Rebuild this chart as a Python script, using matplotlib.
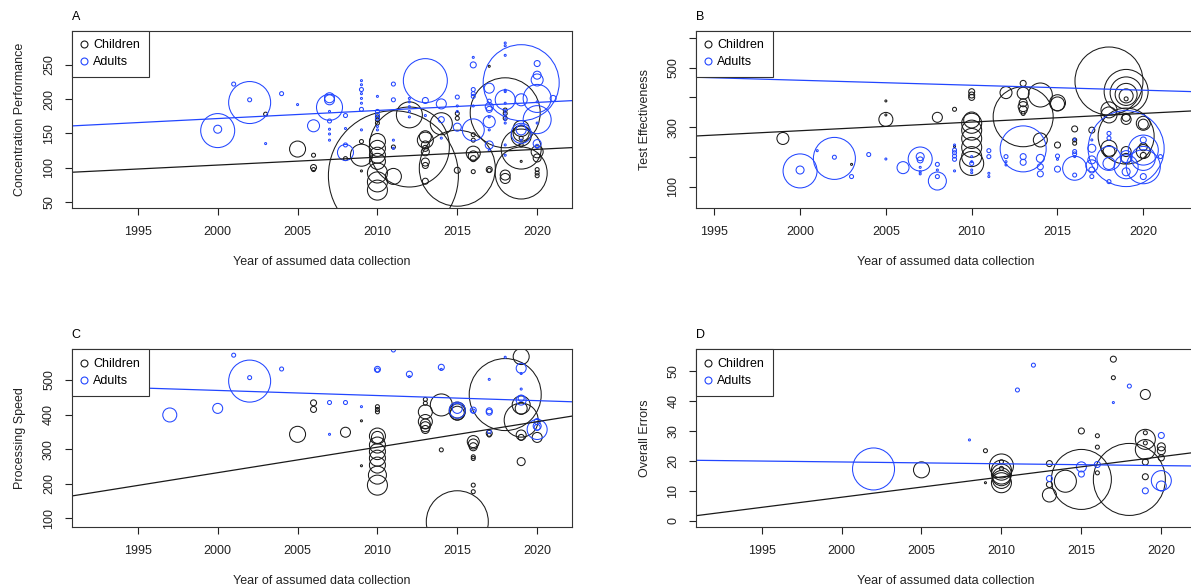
import numpy as np
import matplotlib
matplotlib.use('Agg')
from matplotlib import pyplot as plt
from matplotlib.lines import Line2D

plt.rcParams['font.family'] = ['Liberation Sans', 'DejaVu Sans']
plt.rcParams['font.size'] = 9

# ---- data: year, outcome value, study weight (circle area) ----
# A: Concentration Performance
a_ch_year = [2003, 2005, 2006, 2006, 2006, 2008, 2009, 2009, 2009, 2010, 2010, 2010, 2010, 2010, 2010, 2010,
             2010, 2010, 2010, 2011, 2011, 2011, 2012, 2012, 2013, 2013, 2013, 2013, 2013, 2013, 2013, 2013,
             2014, 2015, 2015, 2015, 2015, 2016, 2016, 2016, 2016, 2016, 2016, 2017, 2017, 2017, 2018, 2018,
             2018, 2018, 2018, 2018, 2019, 2019, 2019, 2019, 2019, 2019, 2019, 2019, 2020, 2020, 2020, 2020, 2020]
a_ch_val = [178, 127, 118, 100, 97, 113, 138, 118, 95, 174, 170, 165, 138, 128, 118, 109,
            92, 79, 67, 88, 87, 130, 177, 130, 145, 140, 133, 128, 123, 108, 103, 80,
            164, 179, 172, 99, 96, 148, 140, 121, 117, 113, 94, 248, 97, 96, 184, 179,
            172, 180, 89, 84, 157, 150, 146, 143, 133, 127, 109, 92, 123, 114, 97, 92, 88]
a_ch_w = [4, 64, 4, 9, 4, 4, 4, 121, 1, 4, 4, 4, 64, 64, 64, 64,
          100, 100, 100, 4225, 64, 4, 169, 1600, 36, 64, 16, 9, 16, 16, 9, 9,
          121, 4, 4, 1444, 9, 4, 4, 49, 25, 9, 4, 1, 9, 4, 4, 4,
          4, 1225, 25, 25, 64, 64, 100, 4, 4, 400, 1, 676, 36, 16, 4, 4, 4]

a_ad_year = [2000, 2000, 2001, 2002, 2002, 2003, 2004, 2005, 2006, 2007, 2007, 2007, 2007, 2007, 2007, 2007,
             2007, 2008, 2008, 2008, 2008, 2009, 2009, 2009, 2009, 2009, 2009, 2009, 2009, 2010, 2010, 2010,
             2010, 2010, 2010, 2011, 2011, 2011, 2011, 2012, 2012, 2012, 2012, 2012, 2013, 2013, 2013, 2014,
             2014, 2014, 2015, 2015, 2015, 2015, 2016, 2016, 2016, 2016, 2016, 2016, 2016, 2017, 2017, 2017,
             2017, 2017, 2017, 2017, 2017, 2017, 2018, 2018, 2018, 2018, 2018, 2018, 2018, 2018, 2018, 2018,
             2018, 2018, 2018, 2019, 2019, 2019, 2019, 2019, 2020, 2020, 2020, 2020, 2020, 2020, 2020, 2020,
             2020, 2021]
a_ad_val = [156, 154, 222, 199, 195, 135, 208, 192, 161, 202, 199, 188, 182, 168, 156, 149,
            140, 176, 157, 133, 122, 227, 221, 214, 208, 201, 194, 185, 155, 204, 182, 177,
            172, 160, 155, 222, 199, 140, 128, 201, 196, 189, 182, 174, 227, 198, 176, 193,
            170, 143, 203, 190, 182, 159, 261, 250, 214, 208, 204, 190, 155, 216, 197, 189,
            185, 174, 167, 155, 133, 125, 282, 278, 264, 213, 211, 199, 194, 182, 177, 170,
            165, 133, 118, 224, 199, 155, 150, 140, 252, 235, 228, 201, 196, 170, 165, 135,
            131, 201]
a_ad_w = [16, 289, 4, 4, 441, 1, 4, 1, 36, 25, 25, 169, 1, 4, 1, 1,
          1, 4, 1, 4, 64, 1, 1, 4, 1, 1, 1, 4, 1, 1, 4, 4,
          4, 1, 1, 4, 4, 1, 1, 1, 1, 1, 1, 1, 484, 9, 1, 25,
          9, 1, 4, 1, 1, 16, 1, 9, 4, 4, 4, 1, 121, 25, 4, 16,
          9, 1, 36, 1, 16, 1, 1, 1, 1, 1, 1, 100, 1, 1, 1, 1,
          1, 1, 1, 1444, 36, 25, 100, 1, 9, 16, 36, 196, 1, 196, 1, 16,
          4, 9]

# B: Test Effectiveness
b_ch_year = [1999, 2003, 2005, 2005, 2005, 2008, 2009, 2009, 2010, 2010, 2010, 2010, 2010, 2010, 2010, 2010,
             2010, 2010, 2012, 2013, 2013, 2013, 2013, 2013, 2013, 2013, 2014, 2014, 2015, 2015, 2015, 2016,
             2016, 2016, 2017, 2018, 2018, 2018, 2018, 2018, 2019, 2019, 2019, 2019, 2019, 2019, 2019, 2019,
             2019, 2019, 2020, 2020, 2020, 2020, 2020]
b_ch_val = [262, 175, 388, 341, 326, 333, 360, 235, 419, 408, 400, 324, 313, 290, 262, 232,
            201, 178, 416, 447, 414, 382, 369, 358, 346, 335, 408, 257, 382, 378, 240, 294,
            257, 246, 290, 455, 358, 341, 229, 218, 420, 415, 410, 405, 395, 326, 333, 270,
            218, 195, 313, 310, 234, 218, 205]
b_ch_w = [36, 1, 1, 1, 49, 25, 4, 1, 9, 9, 9, 64, 100, 100, 100, 100,
          100, 144, 36, 9, 36, 16, 25, 16, 4, 900, 144, 49, 64, 49, 9, 9,
          4, 4, 9, 1156, 64, 64, 64, 36, 484, 256, 121, 49, 4, 25, 16, 784,
          25, 25, 49, 25, 16, 49, 9]

b_ad_year = [2000, 2000, 2001, 2002, 2002, 2003, 2004, 2005, 2006, 2007, 2007, 2007, 2007, 2007, 2007, 2008,
             2008, 2008, 2008, 2009, 2009, 2009, 2009, 2009, 2009, 2010, 2010, 2010, 2010, 2010, 2011, 2011,
             2011, 2011, 2012, 2012, 2012, 2013, 2013, 2013, 2014, 2014, 2014, 2015, 2015, 2015, 2016, 2016,
             2016, 2016, 2016, 2016, 2017, 2017, 2017, 2017, 2017, 2017, 2018, 2018, 2018, 2018, 2018, 2019,
             2019, 2019, 2019, 2020, 2020, 2020, 2020, 2020, 2021]
b_ad_val = [156, 153, 221, 199, 195, 134, 208, 193, 164, 201, 193, 190, 165, 150, 143, 175,
            156, 134, 119, 240, 223, 214, 203, 192, 153, 201, 184, 178, 156, 147, 221, 201,
            145, 134, 201, 184, 173, 227, 201, 182, 195, 167, 143, 203, 192, 159, 259, 218,
            210, 201, 162, 139, 257, 229, 190, 170, 156, 134, 279, 263, 195, 178, 117, 228,
            201, 167, 150, 257, 223, 195, 167, 134, 201]
b_ad_w = [16, 289, 1, 4, 441, 4, 4, 1, 36, 16, 144, 9, 1, 1, 1, 4,
          1, 4, 81, 1, 4, 4, 4, 4, 1, 1, 1, 4, 1, 1, 4, 4,
          1, 1, 4, 1, 1, 529, 9, 9, 16, 9, 9, 4, 1, 9, 1, 4,
          4, 1, 144, 4, 1, 16, 16, 36, 9, 4, 4, 4, 144, 36, 4, 1444,
          36, 144, 16, 9, 225, 144, 289, 9, 4]

# C: Processing Speed
c_ch_year = [2005, 2006, 2006, 2008, 2009, 2009, 2010, 2010, 2010, 2010, 2010, 2010, 2010, 2010, 2010, 2010,
             2010, 2013, 2013, 2013, 2013, 2013, 2013, 2013, 2014, 2014, 2015, 2015, 2015, 2015, 2016, 2016,
             2016, 2016, 2016, 2016, 2016, 2017, 2017, 2018, 2019, 2019, 2019, 2019, 2019, 2019, 2019, 2020]
c_ch_val = [343, 434, 415, 349, 382, 252, 423, 415, 408, 338, 334, 312, 293, 274, 254, 225,
            196, 444, 433, 408, 380, 373, 365, 357, 428, 298, 413, 408, 404, 90, 322, 315,
            307, 278, 273, 196, 177, 346, 341, 458, 568, 428, 418, 384, 341, 334, 264, 334]
c_ch_w = [64, 9, 9, 25, 1, 1, 4, 4, 4, 64, 36, 64, 64, 64, 64, 81,
          100, 4, 4, 49, 49, 25, 25, 16, 121, 4, 64, 64, 49, 961, 36, 25,
          16, 4, 4, 4, 4, 9, 4, 1296, 64, 81, 36, 289, 25, 9, 16, 25]

c_ad_year = [1997, 2000, 2001, 2002, 2002, 2004, 2007, 2007, 2008, 2009, 2010, 2010, 2011, 2012, 2012, 2014,
             2014, 2015, 2015, 2016, 2016, 2017, 2017, 2017, 2017, 2018, 2019, 2019, 2019, 2019, 2019, 2020,
             2020, 2020, 2020]
c_ad_val = [399, 418, 572, 507, 497, 532, 435, 343, 435, 423, 531, 529, 587, 517, 510, 537,
            531, 418, 413, 413, 410, 502, 411, 407, 351, 566, 534, 519, 474, 447, 442, 380,
            367, 363, 357]
c_ad_w = [49, 25, 4, 4, 441, 4, 4, 1, 4, 1, 9, 4, 4, 9, 1, 9,
          1, 25, 64, 9, 4, 1, 9, 9, 4, 1, 25, 1, 1, 9, 25, 9,
          16, 9, 100]

# D: Overall Errors
d_ch_year = [2005, 2009, 2009, 2010, 2010, 2010, 2010, 2010, 2010, 2010, 2010, 2013, 2013, 2013, 2014, 2015,
             2015, 2016, 2016, 2016, 2017, 2017, 2018, 2019, 2019, 2019, 2019, 2019, 2019, 2019, 2020, 2020, 2020]
d_ch_val = [17, 23.4, 12.7, 19.7, 18.3, 17.5, 16.9, 15.6, 14.7, 13.8, 12.7, 19.1, 12.1, 8.6, 13.2, 30,
            13.8, 28.4, 24.6, 16, 54, 47.8, 13.8, 42.2, 29.4, 27.2, 26, 23.8, 19.6, 14.7, 24.7, 23.4, 21]
d_ch_w = [64, 4, 1, 4, 144, 4, 100, 100, 81, 81, 100, 9, 9, 49, 121, 9,
          900, 4, 4, 4, 9, 4, 1296, 25, 4, 100, 4, 100, 9, 9, 16, 16, 9]

d_ad_year = [2002, 2008, 2011, 2012, 2013, 2015, 2015, 2016, 2017, 2018, 2019, 2020, 2020, 2020]
d_ad_val = [17.3, 27, 43.7, 52, 14.1, 18, 15.6, 18.8, 39.5, 45, 10, 28.5, 13.4, 11.6]
d_ad_w = [441, 1, 4, 4, 9, 25, 9, 9, 1, 4, 9, 9, 100, 25]

# meta-regression trends: (value at year 2000, slope per year)
a_ch_fit = (103.6, 1.15)
a_ad_fit = (171.6, 1.18)
b_ch_fit = (288.0, 2.91)
b_ad_fit = (457.5, -1.67)
c_ch_fit = (232.0, 7.38)
c_ad_fit = (470.0, -1.48)
d_ch_fit = (7.85, 0.678)
d_ad_fit = (19.64, -0.061)

BLACK = '#1a1a1a'
BLUE = '#2246ff'

fig = plt.figure(figsize=(11.91, 5.87), dpi=100)
W, H = 1191.0, 587.0


def px_axes(left, top, width, height):
    return fig.add_axes([left / W, (H - top - height) / H, width / W, height / H])


def bubbles(ax, x, y, w, color):
    r_px = np.sqrt(np.array(w, dtype=float))
    d_pt = 2 * r_px * 72.0 / 100
    ax.scatter(x, y, s=d_pt ** 2, facecolors='none', edgecolors=color, linewidths=0.75)


def panel(ax, letter, ylabel, ch, ad, fits, xlim, ylim, yticks, ylabels):
    bubbles(ax, ch[0], ch[1], ch[2], BLACK)
    bubbles(ax, ad[0], ad[1], ad[2], BLUE)
    ax.axline((2000, fits[0][0]), slope=fits[0][1], color=BLACK, lw=0.9)
    ax.axline((2000, fits[1][0]), slope=fits[1][1], color=BLUE, lw=0.9)
    ax.set_xlim(*xlim)
    ax.set_ylim(*ylim)
    ax.set_xticks([1995, 2000, 2005, 2010, 2015, 2020])
    ax.set_yticks(yticks)
    ax.set_yticklabels(ylabels, rotation=90, va='center')
    ax.tick_params(length=5, width=0.8, pad=7, colors='#222222', labelsize=9)
    ax.tick_params(axis='x', pad=8)
    for s in ax.spines.values():
        s.set_linewidth(0.8)
        s.set_color('#333333')
    ax.set_xlabel('Year of assumed data collection', labelpad=13, color='#222222')
    ax.set_ylabel(ylabel, labelpad=12, color='#222222')
    ax.annotate(letter, xy=(0, 1), xycoords='axes fraction', xytext=(0, 10),
                textcoords='offset points', ha='left', va='center', fontsize=9)
    handles = [Line2D([], [], ls='', marker='o', mfc='none', mec=BLACK, ms=5, mew=0.8),
               Line2D([], [], ls='', marker='o', mfc='none', mec=BLUE, ms=5, mew=0.8)]
    leg = ax.legend(handles, ['Children', 'Adults'], loc='upper left', borderaxespad=0,
                    fancybox=False, framealpha=1, edgecolor='#333333', handlelength=0.6,
                    handletextpad=0.4, borderpad=0.7, labelspacing=0.4, fontsize=9)
    leg.get_frame().set_linewidth(0.8)


axA = px_axes(71.7, 30.7, 500.6, 177.6)
panel(axA, 'A', 'Concentration Performance',
      (a_ch_year, a_ch_val, a_ch_w), (a_ad_year, a_ad_val, a_ad_w), (a_ch_fit, a_ad_fit),
      (1990.86, 2022.2), (40.4, 300), [50, 100, 150, 200, 250], ['50', '100', '150', '200', '250'])

axB = px_axes(695.9, 30.7, 500.6, 177.6)
panel(axB, 'B', 'Test Effectiveness',
      (b_ch_year, b_ch_val, b_ch_w), (b_ad_year, b_ad_val, b_ad_w), (b_ch_fit, b_ad_fit),
      (1993.93, 2023.1), (27.4, 624), [100, 200, 300, 400, 500, 600], ['100', '', '300', '', '500', ''])

axC = px_axes(71.7, 349.3, 500.6, 177.4)
panel(axC, 'C', 'Processing Speed',
      (c_ch_year, c_ch_val, c_ch_w), (c_ad_year, c_ad_val, c_ad_w), (c_ch_fit, c_ad_fit),
      (1990.86, 2022.2), (75.7, 589), [100, 200, 300, 400, 500], ['100', '200', '300', '400', '500'])

axD = px_axes(695.9, 349.3, 500.6, 177.4)
panel(axD, 'D', 'Overall Errors',
      (d_ch_year, d_ch_val, d_ch_w), (d_ad_year, d_ad_val, d_ad_w), (d_ch_fit, d_ad_fit),
      (1990.89, 2022.2), (-2.0, 57.3), [0, 10, 20, 30, 40, 50], ['0', '10', '20', '30', '40', '50'])

plt.savefig('out.png', dpi=100)
